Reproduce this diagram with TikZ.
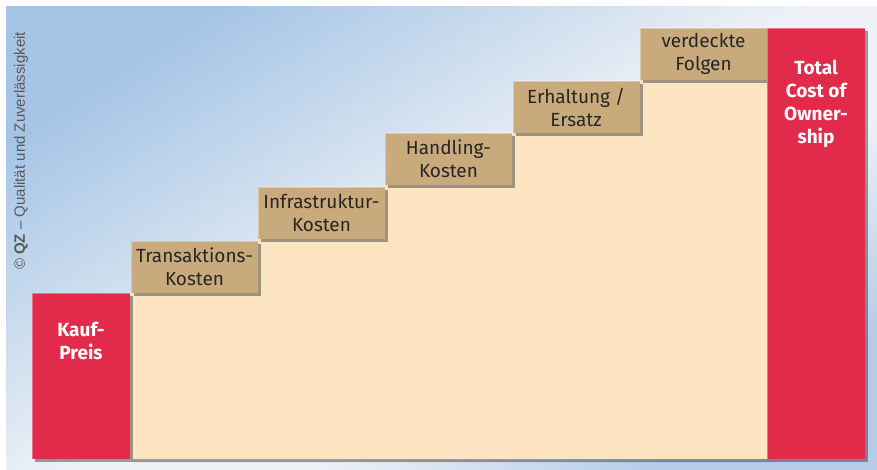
\documentclass[tikz,border=0pt]{standalone}
\usepackage{fontspec}
\setmainfont{Fira Sans}
\newfontfamily\qzfont{Liberation Sans}
\usetikzlibrary{shadows}

\definecolor{tcored}{HTML}{E22B4A}
\definecolor{steptan}{HTML}{C9AA7C}
\definecolor{areabeige}{HTML}{FDE4C0}
\definecolor{skyblue}{HTML}{A6C5E6}
\definecolor{skylight}{HTML}{EEF2F6}
\definecolor{skylow}{HTML}{B4CCEA}

\pgfdeclareverticalshading{skyfade}{100bp}{color(0bp)=(skylow); color(25bp)=(skylow);
	color(40bp)=(skylight); color(50bp)=(skylight); color(75bp)=(skyblue); color(100bp)=(skyblue)}

\tikzset{
	boxshadow/.style={drop shadow={shadow xshift=3pt, shadow yshift=-3pt, opacity=0.5, fill=black!75}},
	bevel/.style={path picture={\draw[white, opacity=0.35, line width=2pt]
		(path picture bounding box.south west) -- (path picture bounding box.north west) -- (path picture bounding box.north east);}},
	stepbox/.style={fill=steptan, boxshadow, bevel, minimum width=127pt, minimum height=52pt, inner sep=0pt,
		text=black!85, align=center, font=\fontsize{19}{23}\selectfont},
	redbox/.style={fill=tcored, boxshadow, bevel, minimum width=98pt, inner sep=0pt},
	redtext/.style={text=white, align=center, anchor=north, inner sep=0pt, font=\fontsize{19}{23}\selectfont\bfseries}
}

\begin{document}
\begin{tikzpicture}[x=1pt, y=-1pt]
	\useasboundingbox (0,0) rectangle (877,470);
	
	%Background
	\begin{scope}[y=1pt]
		\shade[shading=skyfade, shading angle=32] (6,-7) rectangle (877,-470);
	\end{scope}
	\node[rotate=90, text=black!65, font=\qzfont\fontsize{15}{18}\selectfont] (qz) at (21,151) {\textcopyright\ \textbf{QZ} – Qualität und Zuverlässigkeit};
	
	%Staircase area
	\fill[areabeige, boxshadow] (130,459) -- (130,293) -- (258,293) -- (258,239) -- (385,239) -- (385,185)
		-- (512,185) -- (512,133) -- (640,133) -- (640,80) -- (767,80) -- (767,459) -- cycle;
	
	%Kauf-Preis
	\node[redbox, minimum height=166pt] (kauf) at (81,376) {};
	\node[redtext] (kauftext) at (81,322) {Kauf-\\Preis};
	
	%Steps
	\node[stepbox] (trans) at (194.5,267) {Transaktions-\\Kosten};
	\node[stepbox] (infra) at (321.5,213) {Infrastruktur-\\Kosten};
	\node[stepbox] (handl) at (448.5,159) {Handling-\\Kosten};
	\node[stepbox] (erhalt) at (576,107) {Erhaltung /\\Ersatz};
	\node[stepbox] (verdeckt) at (703.5,54) {verdeckte\\Folgen};
	
	%Total Cost of Ownership
	\node[redbox, minimum height=431pt] (tco) at (816,243.5) {};
	\node[redtext] (tcotext) at (816,60) {Total\\Cost of\\Owner-\\ship};
\end{tikzpicture}
\end{document}
